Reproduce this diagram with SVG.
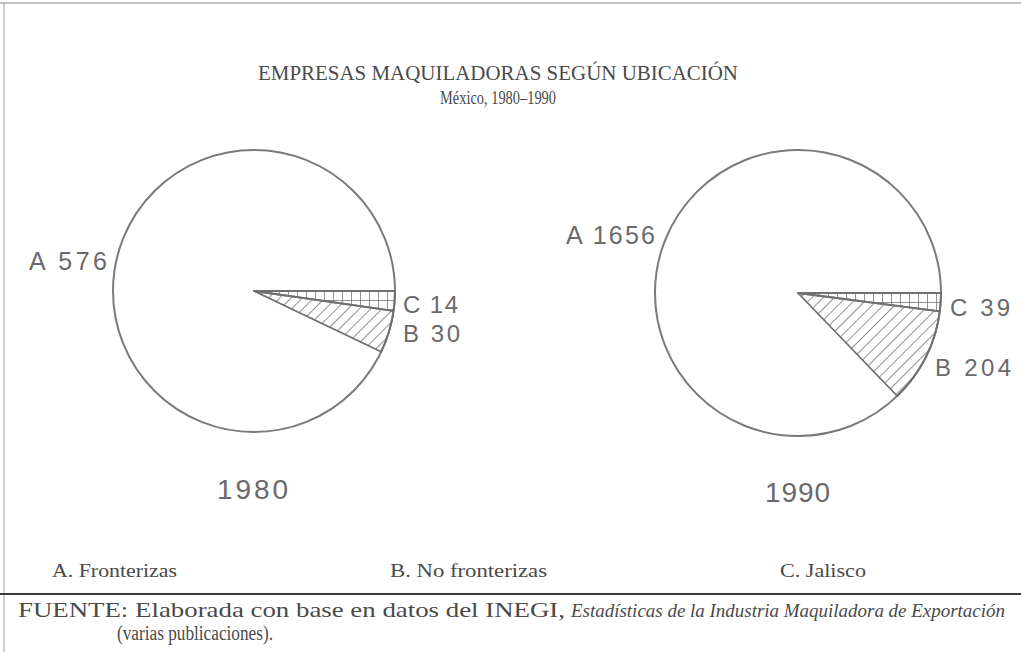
<svg xmlns="http://www.w3.org/2000/svg" width="1021" height="652" viewBox="0 0 1021 652">
<style>
.serif{font-family:"Liberation Serif","Times New Roman",serif;fill:#4a4a4a}
.sans{font-family:"Liberation Sans",Arial,sans-serif;fill:#6a6a6a}
.circ{fill:none;stroke:#7a7a7a;stroke-width:2}
.wedge{stroke:#707070;stroke-width:1.8;stroke-linejoin:round}
.hl{stroke:#6e6e6e;stroke-width:1.5}
</style>
<defs>
<pattern id="diag" patternUnits="userSpaceOnUse" width="8" height="8" patternTransform="rotate(45)">
<line class="hl" x1="0" y1="0" x2="0" y2="8"/>
</pattern>
<pattern id="gridL" patternUnits="userSpaceOnUse" x="0" y="291" width="9" height="9">
<line class="hl" x1="0" y1="0" x2="0" y2="9"/>
<line class="hl" x1="0" y1="0" x2="9" y2="0"/>
</pattern>
<pattern id="gridR" patternUnits="userSpaceOnUse" x="0" y="293" width="9" height="9">
<line class="hl" x1="0" y1="0" x2="0" y2="9"/>
<line class="hl" x1="0" y1="0" x2="9" y2="0"/>
</pattern>
</defs>
<rect x="0" y="0" width="1021" height="652" fill="#ffffff"/>
<g id="frame">
<line x1="0" y1="3" x2="1021" y2="3" stroke="#b0b0b0" stroke-width="1.5"/>
<line x1="4" y1="3" x2="4" y2="652" stroke="#a0a0a0" stroke-width="1"/>
</g>
<g id="title">
<text class="serif" x="258" y="80" font-size="21" textLength="480" lengthAdjust="spacingAndGlyphs">EMPRESAS MAQUILADORAS SEGÚN UBICACIÓN</text>
<text class="serif" x="440" y="104" font-size="18" textLength="116" lengthAdjust="spacingAndGlyphs">México, 1980–1990</text>
</g>
<g id="pie1980">
<circle class="circ" cx="254" cy="291" r="141"/>
<path class="wedge" fill="url(#gridL)" d="M254,291 L395,291 A141,141 0 0 1 393.6,310.9 Z"/>
<path class="wedge" fill="url(#diag)" d="M254,291 L393.6,310.9 A141,141 0 0 1 381.2,351.8 Z"/>
<text class="sans" x="29" y="270" font-size="25" textLength="78" lengthAdjust="spacing">A 576</text>
<text class="sans" x="403" y="313" font-size="24" textLength="55" lengthAdjust="spacing">C 14</text>
<text class="sans" x="403" y="342" font-size="24" textLength="57" lengthAdjust="spacing">B 30</text>
<text class="sans" x="217" y="499" font-size="28" textLength="71" lengthAdjust="spacing">1980</text>
</g>
<g id="pie1990">
<circle class="circ" cx="798" cy="293" r="143"/>
<path class="wedge" fill="url(#gridR)" d="M798,293 L941,293 A143,143 0 0 1 939.8,311.4 Z"/>
<path class="wedge" fill="url(#diag)" d="M798,293 L939.8,311.4 A143,143 0 0 1 897.2,396 Z"/>
<text class="sans" x="566" y="244" font-size="25" textLength="89" lengthAdjust="spacing">A 1656</text>
<text class="sans" x="950" y="316" font-size="24" textLength="60" lengthAdjust="spacing">C 39</text>
<text class="sans" x="935" y="376" font-size="24" textLength="76" lengthAdjust="spacing">B 204</text>
<text class="sans" x="765" y="502" font-size="28" textLength="65" lengthAdjust="spacing">1990</text>
</g>
<g id="legend">
<text class="serif" x="52" y="577" font-size="19" textLength="125" lengthAdjust="spacingAndGlyphs">A. Fronterizas</text>
<text class="serif" x="390" y="577" font-size="19" textLength="157" lengthAdjust="spacingAndGlyphs">B. No fronterizas</text>
<text class="serif" x="780" y="577" font-size="19" textLength="86" lengthAdjust="spacingAndGlyphs">C. Jalisco</text>
</g>
<g id="source">
<line x1="0" y1="594" x2="1021" y2="594" stroke="#3a3a3a" stroke-width="2.2"/>
<text class="serif" x="18" y="617" font-size="21" textLength="547" lengthAdjust="spacingAndGlyphs">FUENTE: Elaborada con base en datos del INEGI,</text>
<text class="serif" x="571" y="617" font-size="18.5" font-style="italic" textLength="434" lengthAdjust="spacingAndGlyphs">Estadísticas de la Industria Maquiladora de Exportación</text>
<text class="serif" x="117" y="640" font-size="20" textLength="156" lengthAdjust="spacingAndGlyphs">(varias publicaciones).</text>
</g>
</svg>
